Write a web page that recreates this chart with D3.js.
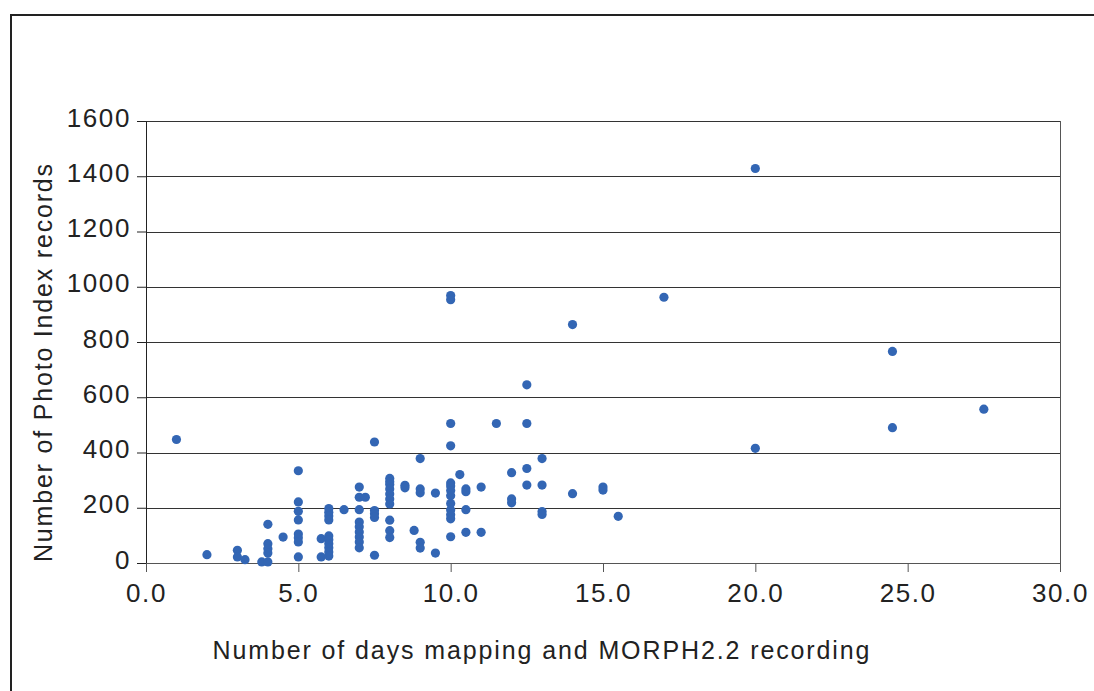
<!DOCTYPE html>
<html><head><meta charset="utf-8">
<script src="https://cdn.jsdelivr.net/npm/d3@7"></script>
<style>body{margin:0;background:#fff}svg{display:block}text{font-family:"Liberation Sans",Arial,sans-serif;fill:#222}</style>
</head><body><svg id="c" width="1094" height="691"></svg>
<script>
const xTicks = [0, 5, 10, 15, 20, 25, 30];
const yTicks = [0, 200, 400, 600, 800, 1000, 1200, 1400, 1600];
const xTitle = "Number of days mapping and MORPH2.2 recording";
const yTitle = "Number of Photo Index records";
const days = [
 1, 2, 3, 3, 3.25, 3.8, 4, 4, 4, 4, 4, 4.5,
 5, 5, 5, 5, 5, 5, 5, 5,
 5.75, 5.75,
 6, 6, 6, 6, 6, 6, 6, 6, 6, 6,
 6.5,
 7, 7, 7, 7, 7, 7, 7, 7, 7, 7.2,
 7.5, 7.5, 7.5, 7.5, 7.5,
 8, 8, 8, 8, 8, 8, 8, 8, 8, 8,
 8.5, 8.5, 8.8,
 9, 9, 9, 9, 9, 9.5, 9.5,
 10, 10, 10, 10, 10, 10, 10, 10, 10, 10, 10, 10, 10,
 10.3, 10.5, 10.5, 10.5, 10.5,
 11, 11, 11.5,
 12, 12, 12,
 12.5, 12.5, 12.5, 12.5,
 13, 13, 13, 13,
 14, 14, 15, 15, 15.5, 17,
 20, 20, 24.5, 24.5, 27.5
];
const records = [
 447, 30, 46, 22, 12, 4, 4, 140, 70, 52, 36, 94,
 334, 221, 187, 156, 105, 91, 76, 22,
 88, 22,
 197, 184, 170, 156, 98, 84, 70, 55, 40, 25,
 193,
 275, 238, 193, 148, 131, 112, 94, 76, 55, 238,
 438, 190, 178, 165, 28,
 306, 294, 284, 268, 250, 232, 214, 155, 117, 92,
 281, 272, 118,
 378, 268, 254, 75, 54, 253, 36,
 968, 953, 505, 424, 290, 279, 262, 243, 215, 192, 175, 160, 95,
 320, 268, 258, 193, 111,
 275, 111, 505,
 327, 232, 218,
 645, 505, 342, 282,
 378, 282, 186, 176,
 863, 251, 275, 264, 169, 962,
 1428, 415, 766, 490, 557
];

const svg = d3.select("#c");
const x = d3.scaleLinear().domain([0, 30]).range([146, 1060]);
const y = d3.scaleLinear().domain([0, 1600]).range([563, 121]);

// outer frame
svg.append("path").attr("d", "M11,691V15H1094").attr("fill", "none").attr("stroke", "#222").attr("stroke-width", 2);

// gridlines
svg.append("g").selectAll("line").data(yTicks.filter(d => d > 0)).join("line")
  .attr("x1", x(0)).attr("x2", x(30)).attr("y1", d => Math.round(y(d)) + 0.5).attr("y2", d => Math.round(y(d)) + 0.5)
  .attr("stroke", "#333").attr("stroke-width", 1);
// right border
svg.append("line").attr("x1", x(30) + 0.5).attr("x2", x(30) + 0.5).attr("y1", y(1600)).attr("y2", y(0))
  .attr("stroke", "#555");

// y axis
const ya = svg.append("g").attr("transform", `translate(${x(0)},0)`)
  .call(d3.axisLeft(y).tickValues(yTicks).tickSize(9).tickPadding(6).tickFormat(d3.format("d")));
ya.select(".domain").attr("stroke", "#222");
ya.selectAll(".tick line").attr("stroke", "#222");
ya.selectAll("text").attr("font-size", 26).attr("letter-spacing", "1.6px").attr("font-family", "Liberation Sans, Arial, sans-serif").attr("fill", "#2a2a2a").attr("dy", "0.2em");

// x axis
const xa = svg.append("g").attr("transform", `translate(0,${y(0)})`)
  .call(d3.axisBottom(x).tickValues(xTicks).tickSize(9).tickPadding(12).tickFormat(d3.format(".1f")));
xa.select(".domain").attr("stroke", "#555");
xa.selectAll(".tick line").attr("stroke", "#555");
xa.selectAll("text").attr("font-size", 26).attr("letter-spacing", "1.6px").attr("font-family", "Liberation Sans, Arial, sans-serif").attr("fill", "#2a2a2a");

// points
svg.append("g").selectAll("circle").data(days.map((d, i) => [d, records[i]])).join("circle")
  .attr("cx", d => x(d[0])).attr("cy", d => y(d[1])).attr("r", 4.6).attr("fill", "#3366b4");

// titles
svg.append("text").attr("x", 541).attr("y", 650).attr("text-anchor", "middle").attr("dominant-baseline", "central")
  .attr("font-size", 25).attr("fill", "#2a2a2a").attr("textLength", 657).attr("lengthAdjust", "spacing").text(xTitle);
svg.append("text").attr("transform", "translate(43,363) rotate(-90)").attr("text-anchor", "middle").attr("dominant-baseline", "central")
  .attr("font-size", 25).attr("fill", "#2a2a2a").attr("textLength", 398).attr("lengthAdjust", "spacing").text(yTitle);
</script></body></html>
